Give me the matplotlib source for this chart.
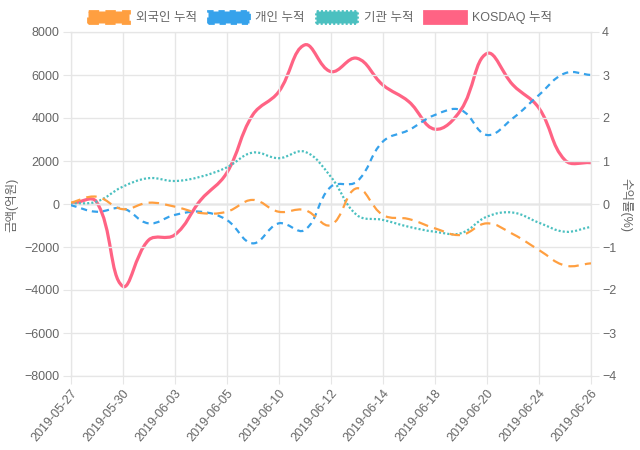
import numpy as np
import matplotlib
matplotlib.use('Agg')
import matplotlib.pyplot as plt
from matplotlib.path import Path
from matplotlib.patches import PathPatch, Patch

# 한글 폰트 설정 (숫자는 Liberation Sans, 한글은 Noto Sans CJK KR)
plt.rcParams['font.family'] = ['Liberation Sans', 'Noto Sans CJK KR', 'DejaVu Sans']
plt.rcParams['lines.scale_dashes'] = False

dates = ['2019-05-27', '2019-05-28', '2019-05-30', '2019-05-31', '2019-06-03',
         '2019-06-04', '2019-06-05', '2019-06-07', '2019-06-10', '2019-06-11',
         '2019-06-12', '2019-06-13', '2019-06-14', '2019-06-17', '2019-06-18',
         '2019-06-19', '2019-06-20', '2019-06-21', '2019-06-24', '2019-06-25',
         '2019-06-26']

# 외국인 / 개인 / 기관 누적 (억원), KOSDAQ 누적 (%)
foreign = [60, 340, -240, 60, -120, -420, -360, 190, -360, -280, -980,
           730, -510, -700, -1130, -1440, -900, -1400, -2140, -2860, -2760]
personal = [-50, -360, -200, -900, -510, -360, -740, -1830, -900, -1210, 800,
            1040, 2900, 3440, 4140, 4370, 3210, 3990, 5070, 6080, 6000]
institution = [30, 110, 800, 1200, 1070, 1270, 1700, 2390, 2130, 2430, 1270,
               -510, -740, -1060, -1290, -1360, -590, -400, -870, -1290, -1060]
kosdaq = [0.0, 0.05, -1.91, -0.84, -0.72, 0.09, 0.72, 2.07, 2.61, 3.70, 3.08,
          3.39, 2.77, 2.38, 1.74, 2.19, 3.50, 2.77, 2.23, 1.02, 0.96]

labels = ['외국인 누적', '개인 누적', '기관 누적', 'KOSDAQ 누적']
colors = ['#ff9f40', '#36a2eb', '#4bc0c0', '#ff6384']


def spline_path(ys, sx, sy, t=0.4):
    # chart.js 스타일 베지어 곡선 (픽셀 공간에서 계산)
    px = np.arange(len(ys)) * sx
    py = np.asarray(ys, float) * sy
    n = len(px)
    cps = []
    for i in range(n):
        p = max(i - 1, 0)
        q = min(i + 1, n - 1)
        d01 = np.hypot(px[i] - px[p], py[i] - py[p])
        d12 = np.hypot(px[q] - px[i], py[q] - py[i])
        tot = d01 + d12
        fa = t * (d01 / tot if tot else 0)
        fb = t * (d12 / tot if tot else 0)
        dx = px[q] - px[p]
        dy = py[q] - py[p]
        cps.append(((px[i] - fa * dx, py[i] - fa * dy), (px[i] + fb * dx, py[i] + fb * dy)))
    verts = [(px[0], py[0])]
    codes = [Path.MOVETO]
    for i in range(n - 1):
        verts += [cps[i][1], cps[i + 1][0], (px[i + 1], py[i + 1])]
        codes += [Path.CURVE4] * 3
    verts = [(x / sx, y / sy) for x, y in verts]
    return Path(verts, codes)


fig = plt.figure(figsize=(6.4, 4.5), dpi=100)
ax = fig.add_axes([70.5 / 640, 1 - 376 / 450, 520.5 / 640, 344 / 450])
ax2 = ax.twinx()

grid_c = '#e6e6e6'
text_c = '#666666'
sx = 26.0
sy_left = 43.0 / 2000
sy_right = 43.0

styles = [
    dict(lw=1.6, linestyle=(0, (7.5, 4.5))),
    dict(lw=1.6, linestyle=(0, (4.5, 3.5))),
    dict(lw=1.6, linestyle=(0, (1.5, 1.5))),
    dict(lw=2.3, linestyle='-'),
]

series = [foreign, personal, institution]
for k in range(3):
    patch = PathPatch(spline_path(series[k], sx, sy_left), fill=False,
                      edgecolor=colors[k], capstyle='butt', zorder=5 - k, **styles[k])
    ax.add_patch(patch)

patch = PathPatch(spline_path(kosdaq, sx, sy_right), fill=False,
                  edgecolor=colors[3], zorder=2, **styles[3])
ax2.add_patch(patch)
ax.set_zorder(ax2.get_zorder() + 1)
ax.patch.set_visible(False)

ax.set_xlim(0, 20)
ax.set_ylim(-8000, 8000)
ax2.set_ylim(-4, 4)
ax.set_xticks(range(0, 21, 2))
ax.set_xticklabels(dates[::2], rotation=50, ha='right', rotation_mode='anchor')
ax.set_yticks(range(-8000, 8001, 2000))
ax2.set_yticks(range(-4, 5))

ax.grid(True, color=grid_c, lw=1)
ax.axhline(0, color='#b3b3b3', lw=1, zorder=1)
for a in (ax, ax2):
    for s in a.spines.values():
        s.set_color(grid_c)
    a.tick_params(length=6, color=grid_c, labelcolor=text_c, labelsize=9, pad=2)

fig.text(12 / 640, 1 - 205 / 450, '금액(억원)', rotation=90, ha='center', va='center',
         color=text_c, fontsize=9)
fig.text(626 / 640, 1 - 205 / 450, '수익률(%)', rotation=-90, ha='center', va='center',
         color=text_c, fontsize=9)

handles = [Patch(facecolor=colors[k], edgecolor=colors[k], linewidth=2,
                 linestyle=styles[k]['linestyle']) for k in range(4)]
fig.legend(handles, labels, loc='upper center', bbox_to_anchor=(0.5, 1.0), ncol=4,
           frameon=False, handlelength=3.3, handleheight=1.0, handletextpad=0.5,
           columnspacing=0.9, fontsize=9, labelcolor=text_c)

fig.savefig('out.png', dpi=100)
